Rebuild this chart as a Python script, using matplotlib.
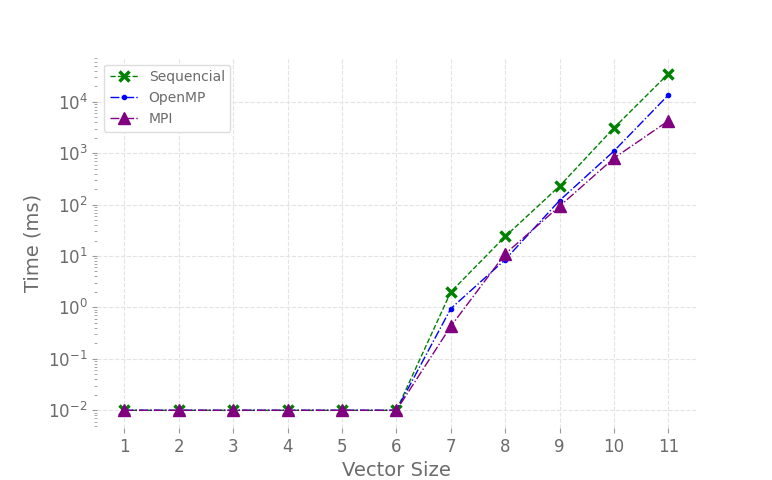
import matplotlib
matplotlib.use("Agg")
import matplotlib.pyplot as plt

# dados
vector_sizes = [1, 2, 3, 4, 5, 6, 7, 8, 9, 10, 11]
sequencial = [0.01, 0.01, 0.01, 0.01, 0.01, 0.01, 2.0, 24, 229, 3100, 35000]
openmp = [0.01, 0.01, 0.01, 0.01, 0.01, 0.01, 0.95, 8.5, 120, 1100, 13500]
mpi = [0.01, 0.01, 0.01, 0.01, 0.01, 0.01, 0.43, 11, 93, 800, 4250]

text_color = "#6b6b6b"
plt.rcParams["font.family"] = "DejaVu Sans"

fig = plt.figure(figsize=(7.72, 4.8), dpi=100)
ax = fig.add_axes([0.126, 0.108, 0.775, 0.772])

ax.plot(vector_sizes, sequencial, color="green", linestyle="--", marker="x",
        markersize=7, markeredgewidth=2.5, linewidth=1, label="Sequencial")
ax.plot(vector_sizes, openmp, color="blue", linestyle="-.", marker=".",
        markersize=6, linewidth=1, label="OpenMP")
ax.plot(vector_sizes, mpi, color="purple", linestyle="-.", marker="^",
        markersize=8, linewidth=1, label="MPI")

ax.set_yscale("log")
ax.set_xticks(vector_sizes)
ax.set_xlim(0.5, 11.5)
ax.set_ylim(0.0045, 72000)

ax.set_xlabel("Vector Size", fontsize=14, color=text_color)
ax.set_ylabel("Time (ms)", fontsize=14, color=text_color)

for s in ax.spines.values():
    s.set_visible(False)
ax.tick_params(axis="both", which="both", colors="#999999", labelcolor=text_color,
               labelsize=12)
ax.tick_params(axis="y", which="minor", length=2)
ax.grid(True, which="major", linestyle="--", color="#e3e3e3", linewidth=0.8)

leg = ax.legend(loc="upper left", fontsize=10, labelcolor=text_color,
                framealpha=1, edgecolor="#dddddd")

fig.savefig("out.png", dpi=100)
